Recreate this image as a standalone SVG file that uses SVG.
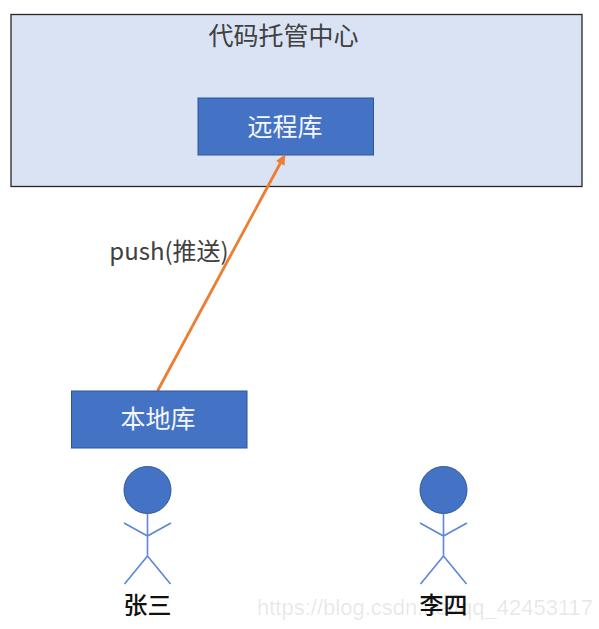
<svg xmlns="http://www.w3.org/2000/svg" width="599" height="629" viewBox="0 0 599 629">
<style>
text{font-family:"Noto Sans CJK SC","Liberation Sans",sans-serif;text-anchor:middle}
.box{fill:#4472c4;stroke:#2f5597;stroke-width:1}
.white{fill:#f4f6fb;font-size:25px}
.head{fill:#4472c4;stroke:#2f5597;stroke-width:1}
.limb{fill:none;stroke:#5b87d6;stroke-width:1.6}
.name{fill:#111;font-size:24px;font-weight:500}
</style>
<defs>
<marker id="arrow" markerUnits="userSpaceOnUse" markerWidth="12" markerHeight="12" refX="9" refY="5" orient="auto"><path d="M0,0L10,5L0,10Z" fill="#ed7d31"/></marker>
<g id="stick"><circle class="head" cx="0" cy="0" r="23.500"/><path class="limb" d="M0,23.500V66M0,66L-23,94M0,66L23,94M-23.500,33L0,46L23.500,33"/></g>
</defs>
<rect width="599" height="629" fill="#fff"/>
<g id="hub"><rect x="11" y="14.500" width="571" height="172" fill="#dae3f3" stroke="#262626" stroke-width="1.300"/><text x="283.500" y="45" font-size="25" fill="#404040">代码托管中心</text></g>
<g id="remote"><rect class="box" x="198" y="98" width="175.500" height="57"/><text class="white" x="285" y="136">远程库</text></g>
<g id="connectors"><line x1="157.500" y1="391" x2="284.500" y2="155.500" stroke="#ed7d31" stroke-width="2.800" marker-end="url(#arrow)"/></g>
<g id="push-label"><text x="169" y="260" font-size="24" fill="#404040">push(推送)</text></g>
<g id="local"><rect class="box" x="71.500" y="391" width="175.500" height="57"/><text class="white" x="158" y="428">本地库</text></g>
<g id="zhangsan"><use href="#stick" x="147.500" y="490"/><text class="name" x="147.500" y="614">张三</text></g>
<g id="lisi"><use href="#stick" x="443.500" y="490"/><text class="name" x="443.500" y="614">李四</text></g>
<g id="watermark"><text x="425" y="615" font-size="22" fill="#000" fill-opacity="0.1" style="font-family:'Liberation Sans',sans-serif">https://blog.csdn.net/qq_42453117</text></g>
</svg>
